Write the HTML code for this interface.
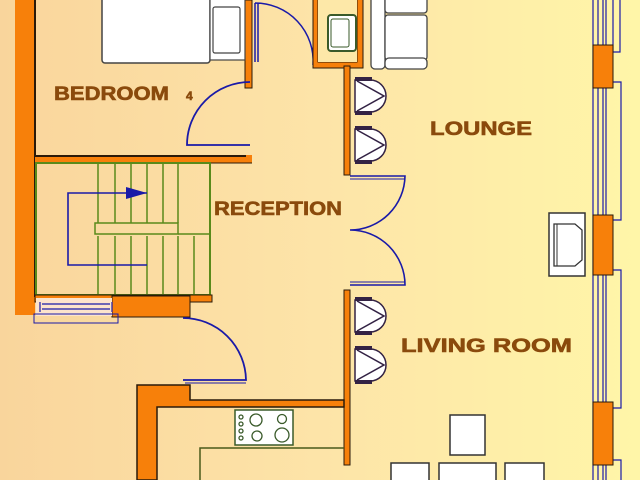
<!DOCTYPE html>
<html><head><meta charset="utf-8"><style>
html,body{margin:0;padding:0;width:640px;height:480px;overflow:hidden}
svg{display:block}
text{font-family:"Liberation Sans",sans-serif;font-weight:bold;fill:#8a4a0c;stroke:#8a4a0c;stroke-width:0.6}
</style></head><body>
<svg width="640" height="480" viewBox="0 0 640 480" xmlns="http://www.w3.org/2000/svg">
<defs>
<linearGradient id="bg" x1="0" x2="1" y1="0" y2="0">
<stop offset="0" stop-color="#f9d59c"/><stop offset="0.5" stop-color="#fde4a8"/><stop offset="1" stop-color="#fff6a8"/>
</linearGradient>
<g id="chair">
<path d="M0,3 H15 A16,16 0 0 1 15,35 H0 Z" fill="#fff" stroke="#332244" stroke-width="1.5"/>
<rect x="0" y="0" width="17" height="4" fill="#332244"/>
<rect x="0" y="34" width="17" height="4" fill="#332244"/>
<path d="M2,4 L29,19 L2,34" fill="none" stroke="#332244" stroke-width="1.5"/>
</g>
</defs>
<rect width="640" height="480" fill="url(#bg)"/>

<rect x="15" y="0" width="20" height="315" fill="#f7800a"/>
<line x1="35" y1="0" x2="35" y2="297" stroke="#2a1a0a" stroke-width="2"/>
<rect x="35" y="155" width="217" height="8" fill="#f7800a"/>
<line x1="35" y1="156" x2="246" y2="156" stroke="#2a1a0a" stroke-width="2"/>
<line x1="35" y1="163" x2="252" y2="163" stroke="#2a1a0a" stroke-width="1"/>
<rect x="245" y="0" width="7" height="88" fill="#f7800a" stroke="#2a1a0a" stroke-width="1"/>
<rect x="102" y="-5" width="108" height="68" rx="3" fill="#fff" stroke="#444" stroke-width="1.5"/>
<rect x="210" y="-5" width="35" height="65" fill="#fff" stroke="#444" stroke-width="1.2"/>
<rect x="213" y="7" width="27" height="46" rx="2" fill="#fff" stroke="#444" stroke-width="1.2"/>
<path d="M250,82 A63,63 0 0 0 187,145 L250,145" fill="none" stroke="#1a1aa8" stroke-width="1.8"/>
<path d="M255,3 A58,58 0 0 1 313,65 M255,3 L255,62 M258,3 L258,62" fill="none" stroke="#1a1aa8" stroke-width="1.5"/>
<rect x="313" y="62" width="6" height="5" fill="#f7800a"/>
<path d="M313,0 V68 H363 V0 M318,0 V62 H357 V0" fill="#f7800a" stroke="#2a1a0a" stroke-width="1"/>
<rect x="318" y="0" width="39" height="62" fill="#fde8a8"/>
<rect x="328" y="15" width="28" height="36" rx="3" fill="#fff" stroke="#3a5a2a" stroke-width="2"/>
<rect x="331" y="19" width="18" height="28" rx="2" fill="none" stroke="#3a5a2a" stroke-width="1"/>
<rect x="371" y="-5" width="14" height="74" rx="4" fill="#fff" stroke="#444" stroke-width="1.3"/>
<rect x="385" y="15" width="42" height="45" rx="3" fill="#fff" stroke="#444" stroke-width="1.3"/>
<rect x="385" y="-5" width="42" height="18" rx="3" fill="#fff" stroke="#444" stroke-width="1.3"/>
<rect x="385" y="58" width="42" height="11" rx="4" fill="#fff" stroke="#444" stroke-width="1.3"/>
<rect x="344" y="66" width="6" height="109" fill="#f7800a" stroke="#2a1a0a" stroke-width="1"/>
<use href="#chair" x="355" y="77"/>
<use href="#chair" x="355" y="126"/>
<path d="M350,176 H405 A55,55 0 0 1 350,230 A55,55 0 0 1 405,285 H350" fill="none" stroke="#1a1aa8" stroke-width="1.6"/>
<line x1="350" y1="179" x2="405" y2="179" stroke="#1a1aa8" stroke-width="1"/>
<line x1="350" y1="282" x2="405" y2="282" stroke="#1a1aa8" stroke-width="1"/>
<rect x="344" y="290" width="6" height="175" fill="#f7800a" stroke="#2a1a0a" stroke-width="1"/>
<use href="#chair" x="355" y="297"/>
<use href="#chair" x="355" y="346"/>

<rect x="36" y="163" width="174" height="132" fill="none" stroke="#5a8a1a" stroke-width="2"/>
<g stroke="#5a8a1a" stroke-width="1.5" fill="none">
<path d="M98,163 V223 M115,163 V223 M131,163 V223 M147,163 V223 M163,163 V223 M178,163 V223"/>
<rect x="95" y="223" width="83" height="11"/>
<path d="M178,234 H210 M98,236 V295 M115,236 V295 M131,236 V295 M147,236 V295 M163,236 V295 M178,236 V295 M194,236 V295"/>
</g>
<path d="M147,193 H68 V265 H147" fill="none" stroke="#1a1aa8" stroke-width="1.6"/>
<path d="M126,187 L147,193 L126,199 Z" fill="#1a1aa8"/>
<rect x="35" y="295" width="177" height="7" fill="#f7800a" stroke="#2a1a0a" stroke-width="1"/>
<rect x="112" y="296" width="78" height="21" fill="#f7800a" stroke="#2a1a0a" stroke-width="1"/>
<rect x="36" y="298" width="76" height="18" fill="#fde4cc"/>
<path d="M42,304 H110 M42,309 H110 M40,302 V312 M112,302 V312" stroke="#1a1aa8" stroke-width="1.2" fill="none"/>
<rect x="34" y="314" width="84" height="9" fill="none" stroke="#1a1aa8" stroke-width="1"/>
<path d="M183,318 A63,63 0 0 1 246,380 H183" fill="none" stroke="#1a1aa8" stroke-width="1.8"/>
<line x1="185" y1="383" x2="246" y2="383" stroke="#1a1aa8" stroke-width="1"/>

<path d="M137,385 H190 V400 H344 V407 H157 V480 H137 Z" fill="#f7800a" stroke="#2a1a0a" stroke-width="1.5"/>
<rect x="235" y="410" width="58" height="35" fill="#fff" stroke="#3a5a2a" stroke-width="1.5"/>
<g fill="none" stroke="#3a5a2a" stroke-width="1.3">
<circle cx="241" cy="417" r="2"/><circle cx="241" cy="424" r="2"/><circle cx="241" cy="431" r="2"/><circle cx="241" cy="438" r="2"/>
<circle cx="256" cy="420" r="6"/><circle cx="282" cy="419" r="4.5"/><circle cx="257" cy="436" r="5"/><circle cx="282" cy="435" r="7"/>
</g>
<path d="M344,448 H200 V480" fill="none" stroke="#4a5a1a" stroke-width="1.5"/>

<g stroke="#1a1aa8" stroke-width="1.2" fill="none">
<path d="M593,0 V480 M598,0 V480 M603,0 V480 M606,0 V480"/>
<path d="M613,0 V52 H620 V0"/>
<path d="M613,82 H621 V220 H613"/>
<path d="M613,270 H621 V408 H613"/>
<path d="M613,460 H621 V480"/>
</g>
<rect x="593" y="45" width="20" height="43" fill="#f7800a" stroke="#2a1a0a" stroke-width="1"/>
<rect x="593" y="215" width="20" height="60" fill="#f7800a" stroke="#2a1a0a" stroke-width="1"/>
<rect x="593" y="402" width="20" height="63" fill="#f7800a" stroke="#2a1a0a" stroke-width="1"/>
<rect x="549" y="213" width="36" height="63" fill="#fff" stroke="#333" stroke-width="1.5"/>
<path d="M554,224 H575 L582,230 V260 L575,266 H554 Z" fill="#fff" stroke="#333" stroke-width="1.3"/>
<line x1="557" y1="224" x2="557" y2="266" stroke="#333" stroke-width="1"/>
<rect x="450" y="415" width="35" height="40" fill="#fff" stroke="#333" stroke-width="1.5"/>
<rect x="391" y="463" width="38" height="25" fill="#fff" stroke="#333" stroke-width="1.5"/>
<rect x="439" y="463" width="57" height="25" fill="#fff" stroke="#333" stroke-width="1.5"/>
<rect x="505" y="463" width="39" height="25" fill="#fff" stroke="#333" stroke-width="1.5"/>

<text x="54" y="100" font-size="19" textLength="115" lengthAdjust="spacingAndGlyphs">BEDROOM</text>
<text x="186" y="100" font-size="12">4</text>
<text x="430" y="135" font-size="19" textLength="102" lengthAdjust="spacingAndGlyphs">LOUNGE</text>
<text x="214" y="215" font-size="19" textLength="128" lengthAdjust="spacingAndGlyphs">RECEPTION</text>
<text x="401" y="352" font-size="19" textLength="171" lengthAdjust="spacingAndGlyphs">LIVING ROOM</text>
</svg>
</body></html>
